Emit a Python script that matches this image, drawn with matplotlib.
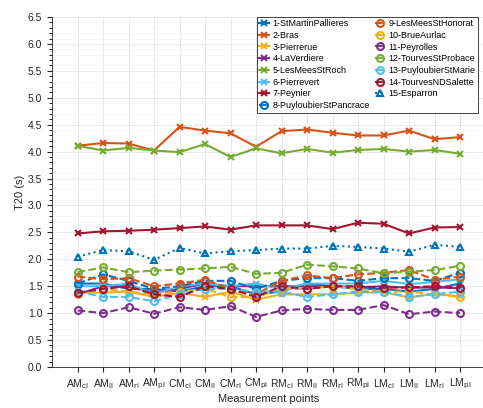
import matplotlib
matplotlib.use('Agg')
import numpy as np
from matplotlib import pyplot as plt
from matplotlib.ticker import MultipleLocator

plt.rcParams['font.family'] = ['Liberation Sans', 'DejaVu Sans']

points = [r'AM$_{\rm cl}$', r'AM$_{\rm ll}$', r'AM$_{\rm rl}$', r'AM$_{\rm pl}$',
          r'CM$_{\rm cl}$', r'CM$_{\rm ll}$', r'CM$_{\rm rl}$', r'CM$_{\rm pl}$',
          r'RM$_{\rm cl}$', r'RM$_{\rm ll}$', r'RM$_{\rm rl}$', r'RM$_{\rm pl}$',
          r'LM$_{\rm cl}$', r'LM$_{\rm ll}$', r'LM$_{\rm rl}$', r'LM$_{\rm pl}$']

names = ['1-StMartinPallieres', '2-Bras', '3-Pierrerue', '4-LaVerdiere',
         '5-LesMeesStRoch', '6-Pierrevert', '7-Peynier', '8-PuyloubierStPancrace',
         '9-LesMeesStHonorat', '10-BrueAurlac', '11-Peyrolles', '12-TourvesStProbace',
         '13-PuyloubierStMarie', '14-TourvesNDSalette', '15-Esparron']

s1 = [1.55, 1.55, 1.45, 1.45, 1.40, 1.50, 1.50, 1.35, 1.40, 1.55, 1.50, 1.45, 1.45, 1.40, 1.45, 1.55]
s2 = [4.11, 4.16, 4.15, 4.02, 4.46, 4.39, 4.34, 4.09, 4.38, 4.41, 4.35, 4.30, 4.30, 4.39, 4.23, 4.27]
s3 = [1.38, 1.38, 1.40, 1.30, 1.38, 1.30, 1.40, 1.25, 1.35, 1.35, 1.35, 1.38, 1.39, 1.29, 1.36, 1.31]
s4 = [1.35, 1.50, 1.50, 1.38, 1.45, 1.55, 1.50, 1.50, 1.50, 1.50, 1.50, 1.48, 1.50, 1.47, 1.48, 1.46]
s5 = [4.11, 4.02, 4.07, 4.02, 3.99, 4.14, 3.90, 4.06, 3.97, 4.05, 3.98, 4.03, 4.05, 4.00, 4.03, 3.96]
s6 = [1.50, 1.50, 1.55, 1.35, 1.50, 1.55, 1.50, 1.55, 1.45, 1.55, 1.55, 1.55, 1.60, 1.54, 1.58, 1.63]
s7 = [2.48, 2.52, 2.53, 2.55, 2.58, 2.61, 2.55, 2.63, 2.63, 2.63, 2.56, 2.68, 2.66, 2.48, 2.59, 2.60]
s8 = [1.55, 1.72, 1.60, 1.45, 1.50, 1.60, 1.60, 1.45, 1.60, 1.65, 1.65, 1.60, 1.65, 1.65, 1.60, 1.75]
s9 = [1.68, 1.63, 1.65, 1.50, 1.55, 1.62, 1.45, 1.35, 1.60, 1.70, 1.65, 1.72, 1.75, 1.80, 1.62, 1.68]
s10 = [1.35, 1.45, 1.40, 1.35, 1.40, 1.45, 1.30, 1.30, 1.45, 1.45, 1.50, 1.45, 1.40, 1.40, 1.35, 1.30]
s11 = [1.05, 1.00, 1.11, 0.99, 1.11, 1.06, 1.13, 0.93, 1.05, 1.08, 1.06, 1.06, 1.15, 0.98, 1.03, 1.00]
s12 = [1.76, 1.85, 1.76, 1.79, 1.81, 1.83, 1.86, 1.73, 1.75, 1.90, 1.87, 1.83, 1.74, 1.77, 1.80, 1.88]
s13 = [1.40, 1.30, 1.30, 1.22, 1.35, 1.45, 1.45, 1.40, 1.40, 1.30, 1.35, 1.40, 1.40, 1.30, 1.35, 1.40]
s14 = [1.38, 1.45, 1.50, 1.35, 1.30, 1.50, 1.45, 1.30, 1.50, 1.45, 1.50, 1.50, 1.47, 1.48, 1.50, 1.47]
s15 = [2.05, 2.17, 2.15, 1.99, 2.21, 2.11, 2.15, 2.17, 2.20, 2.20, 2.25, 2.23, 2.20, 2.14, 2.27, 2.23]

series = [s1, s2, s3, s4, s5, s6, s7, s8, s9, s10, s11, s12, s13, s14, s15]

colors = ['#0072BD', '#D95319', '#EDB120', '#7E2F8E', '#77AC30', '#4DBEEE', '#A2142F']

fig = plt.figure(figsize=(4.83, 4.08), dpi=100)
ax = fig.add_axes([52/483, 41/408, 17*25.5/483, 350/408])

x = np.arange(1, len(points) + 1)
for k, (name, y) in enumerate(zip(names, series)):
    c = colors[k % 7]
    if k < 7:
        ls, mk = '-', 'x'
    elif k < 14:
        ls, mk = '--', 'o'
    else:
        ls, mk = ':', '^'
    ax.plot(x, y, linestyle=ls, marker=mk, color=c, lw=1.5, ms=5,
            mew=1.5, mfc='none' if mk != 'x' else c, label=name)

ax.set_xlim(0, 17)
ax.set_ylim(0, 6.5)
ax.set_xticks(x)
ax.set_xticklabels(points, fontsize=7.5)
ax.yaxis.set_major_locator(MultipleLocator(0.5))
ax.yaxis.set_minor_locator(MultipleLocator(0.1))
ax.tick_params(axis='both', direction='out', labelsize=7.5, color='#262626', labelcolor='#262626')
ax.tick_params(axis='y', which='minor', direction='out', length=2)
ax.grid(True, which='major', color='#e6e6e6', lw=0.6)
ax.grid(True, which='minor', axis='y', color='#ececec', lw=0.5, linestyle=':')
for sp in ['top', 'right']:
    ax.spines[sp].set_visible(False)
for sp in ['left', 'bottom']:
    ax.spines[sp].set_color('#262626')
    ax.spines[sp].set_linewidth(0.6)

ax.set_xlabel('Measurement points', fontsize=8, color='#262626', labelpad=2)
ax.set_ylabel('T20 (s)', fontsize=8, color='#262626', labelpad=2)

leg = ax.legend(ncol=2, fontsize=6.5, loc='upper left', bbox_to_anchor=(200/433.5, 1 + 5/350),
                frameon=True, fancybox=False, edgecolor='#262626', handlelength=1.1,
                handletextpad=0.4, columnspacing=0.5, labelspacing=0.3, borderpad=0.3,
                framealpha=1)
leg.get_frame().set_linewidth(0.6)

fig.savefig('out.png', dpi=100)
